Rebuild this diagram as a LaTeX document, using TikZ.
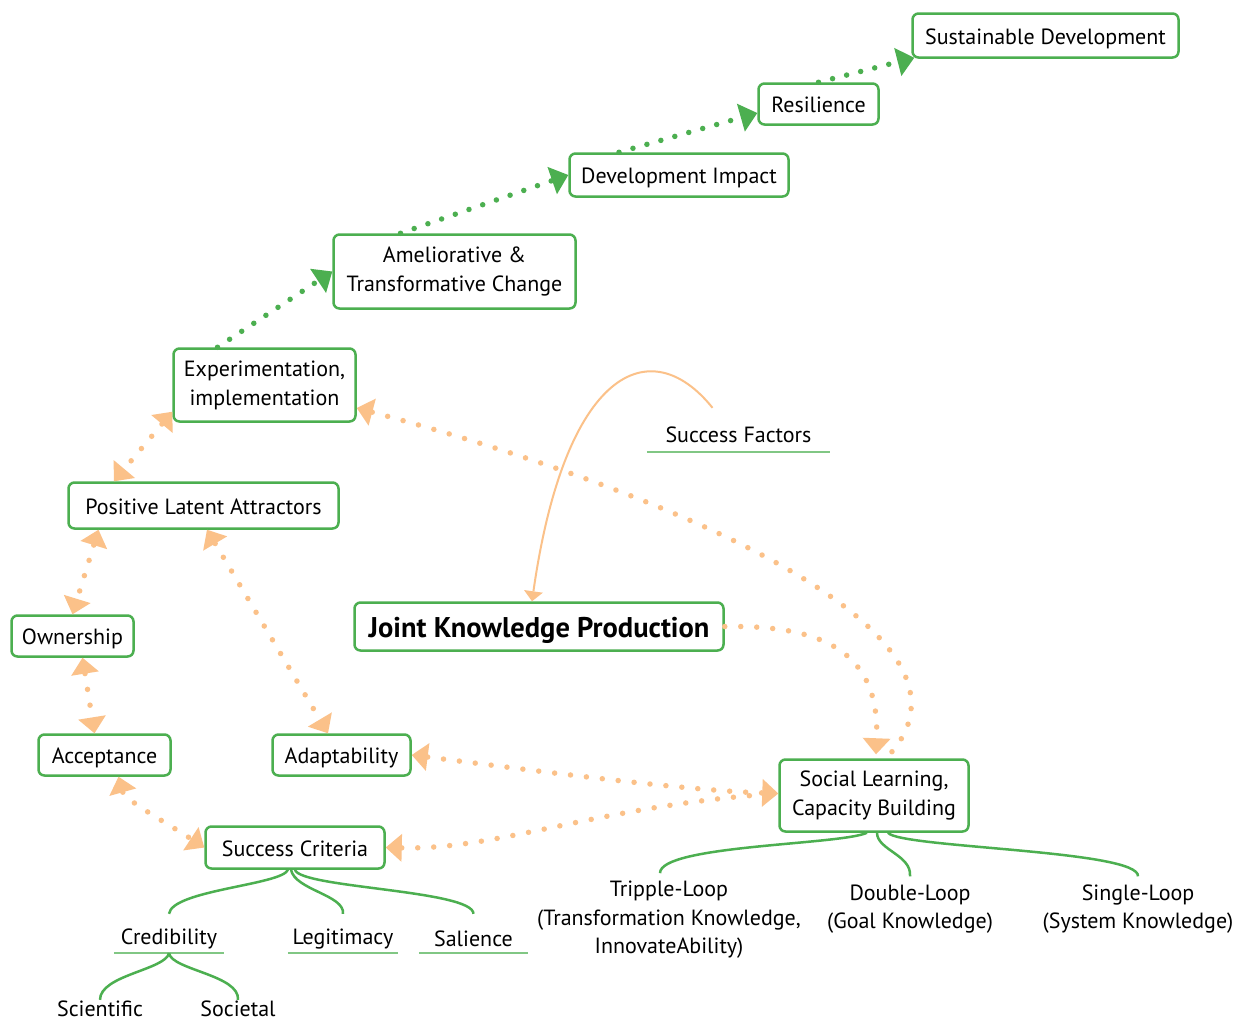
\documentclass[tikz,border=0pt]{standalone}
\usepackage{fontspec}
\setmainfont{PT Sans}
\usetikzlibrary{arrows.meta,calc}
\definecolor{boxgreen}{RGB}{76,175,80}
\definecolor{dotorange}{RGB}{251,193,137}
\definecolor{ulgreen}{RGB}{129,199,132}
\tikzset{
  box/.style={draw=boxgreen, line width=2.5pt, rounded corners=6pt, fill=white,
    align=center, inner sep=0pt, font=\fontsize{22}{29}\selectfont,
    execute at begin node={\rule{0pt}{22pt}},
    execute at end node={\rule[-4.5pt]{0pt}{4.5pt}}},
  twoline/.style={execute at end node={\rule[-1pt]{0pt}{1pt}}},
  bigbox/.style={box, font=\fontsize{28.5}{32}\selectfont\bfseries,
    execute at begin node={\rule{0pt}{29pt}},
    execute at end node={\rule[-6pt]{0pt}{6pt}}},
  lbl/.style={inner sep=0pt, align=center, font=\fontsize{22}{28.5}\selectfont},
  ulbl/.style={inner sep=0pt, align=center, font=\fontsize{22}{28}\selectfont, minimum height=28pt},
  uline/.style={draw=ulgreen, line width=2.5pt},
  tree/.style={draw=boxgreen, line width=2.5pt},
  gdot/.style={draw=boxgreen, line width=5.5pt, line cap=round, dash pattern=on 0pt off 14.5pt,
    -{Triangle[length=17pt,width=29pt,line width=0pt]}},
  odot/.style={draw=dotorange, line width=5.5pt, line cap=round, dash pattern=on 0pt off 16pt},
  otip/.style={{Triangle[length=16pt,width=28pt,line width=0pt]}-{Triangle[length=16pt,width=28pt,line width=0pt]}},
  otipstart/.style={{Triangle[length=16pt,width=28pt,line width=0pt]}-},
  otipend/.style={-{Triangle[length=16pt,width=28pt,line width=0pt]}},
  sfarrow/.style={draw=dotorange, line width=2pt, -{Triangle[length=10pt,width=19pt,line width=0pt]}}
}
\begin{document}
\begin{tikzpicture}[x=1pt,y=-1pt]
\useasboundingbox[fill=white] (0,0) rectangle (1246,1021);

% boxes
\node[box,minimum width=266pt,minimum height=44pt] (sd) at (1045.5,35.5) {Sustainable Development};
\node[box,minimum width=120pt,minimum height=41pt] (res) at (818.5,104) {Resilience};
\node[box,minimum width=219pt,minimum height=43pt] (dev) at (679,175) {Development Impact};
\node[box,twoline,minimum width=242pt,minimum height=74pt] (amel) at (454.5,271.5) {Ameliorative \&\\Transformative Change};
\node[box,twoline,minimum width=182pt,minimum height=73pt] (exp) at (264.5,385) {Experimentation,\\implementation};
\node[box,minimum width=270pt,minimum height=46pt] (pla) at (203.5,505.5) {Positive Latent Attractors};
\node[box,minimum width=122pt,minimum height=41pt] (own) at (72.5,636) {Ownership};
\node[box,minimum width=132pt,minimum height=41pt] (acc) at (104.5,755) {Acceptance};
\node[box,minimum width=138pt,minimum height=41pt] (adapt) at (341.5,755) {Adaptability};
\node[bigbox,minimum width=369pt,minimum height=48pt] (jkp) at (539,626.5) {Joint Knowledge Production};
\node[box,twoline,minimum width=189pt,minimum height=72pt] (sl) at (874,795.5) {Social Learning,\\Capacity Building};
\node[box,minimum width=179pt,minimum height=42pt] (sc) at (295,847.5) {Success Criteria};

% underlined labels
\node[ulbl,minimum width=183pt,minimum height=34pt] (sf) at (738.5,435) {Success Factors};
\node[ulbl,minimum width=110pt] (cred) at (169,939) {Credibility};
\node[ulbl,minimum width=110pt] (legit) at (343,939) {Legitimacy};
\node[ulbl,minimum width=109pt] (sal) at (473.5,939) {Salience};
\draw[uline] (sf.south west) -- (sf.south east);
\draw[uline] (cred.south west) -- (cred.south east);
\draw[uline] (legit.south west) -- (legit.south east);
\draw[uline] (sal.south west) -- (sal.south east);

% plain labels
\node[lbl] (sci) at (100,1009) {Scientific};
\node[lbl] (soc) at (238,1009) {Societal};
\node[lbl] (trip) at (669,920) {Tripple-Loop\\(Transformation Knowledge,\\InnovateAbility)};
\node[lbl] (dbl) at (910,909) {Double-Loop\\(Goal Knowledge)};
\node[lbl] (sgl) at (1138,909) {Single-Loop\\(System Knowledge)};

% green dotted chain
\draw[gdot] ([xshift=-47pt]exp.north) -- (amel.west);
\draw[gdot] ([xshift=-54pt]amel.north) -- (dev.west);
\draw[gdot] ([xshift=-60pt]dev.north) -- ([yshift=-9pt]res.west);
\draw[gdot] (res.north) -- ([xshift=3pt,yshift=1pt]sd.south west);

% orange dotted relations
\draw[odot,otip] ([yshift=11pt]exp.south west) -- ([xshift=-89.5pt]pla.north);
\draw[odot,otip] ([xshift=-105pt]pla.south) -- (own.north);
\draw[odot,otip] ([xshift=10pt]own.south) -- ([xshift=-10pt]acc.north);
\draw[odot,otip] ([xshift=14pt]acc.south) .. controls (125,800) and (170,825) .. (sc.west);
\draw[odot,otip] ([xshift=3.5pt]pla.south) -- ([xshift=-13.5pt]adapt.north);
\draw[odot,otip] (adapt.east) .. controls (530,770) and (680,790) .. ([yshift=2pt]sl.west);
\draw[odot,otipstart] (sc.east) .. controls (500,850) and (600,805) .. ([yshift=2pt]sl.west);
\draw[odot,otipstart] ([yshift=-23pt]exp.east) .. controls (700,500) and (1002,640) .. ([xshift=12pt]sl.north);
\draw[odot,otipend] (jkp.east) .. controls (820,625) and (880,650) .. ([xshift=2pt,yshift=4pt]sl.north);

% success factors arrow
\draw[sfarrow] ([xshift=-26pt,yshift=10pt]sf.north) .. controls (650,330) and (565,370) .. ([xshift=-7pt]jkp.north);

% trees
\draw[tree] ([xshift=-7pt]sc.south) .. controls (282,885) and (172,890) .. ([yshift=11pt]cred.north);
\draw[tree] ([xshift=-4pt]sc.south) .. controls (295,890) and (345,895) .. ([yshift=11pt]legit.north);
\draw[tree] (sc.south) .. controls (300,888) and (473,890) .. ([yshift=11pt]sal.north);
\draw[tree] (cred.south) .. controls (165,970) and (100,975) .. ([yshift=1pt]sci.north);
\draw[tree] (cred.south) .. controls (172,970) and (240,975) .. ([yshift=1pt]soc.north);
\draw[tree] ([xshift=-7pt]sl.south) .. controls (840,845) and (660,845) .. ([xshift=-9pt,yshift=8pt]trip.north);
\draw[tree] ([xshift=3pt]sl.south) .. controls (877,850) and (912,855) .. ([yshift=8pt]dbl.north);
\draw[tree] ([xshift=14pt]sl.south) .. controls (900,848) and (1140,850) .. ([yshift=8pt]sgl.north);
\end{tikzpicture}
\end{document}
